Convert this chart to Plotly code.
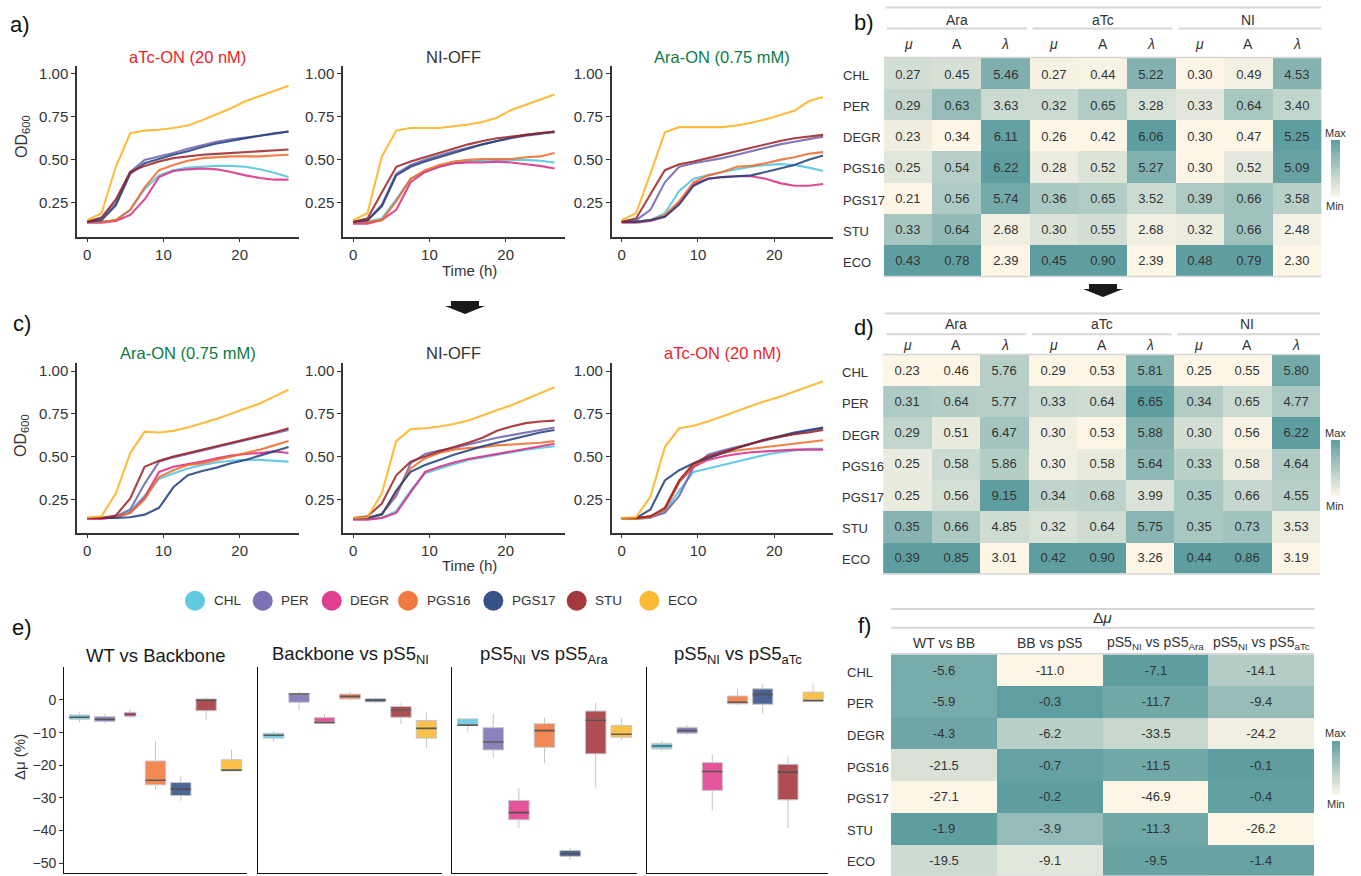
import plotly.graph_objects as go

W, H = 1361, 876
FONT = "Liberation Sans, Arial, Helvetica, sans-serif"
INK = "#333333"
RED = "#EB1E2B"
GREEN = "#0B7A47"
RULE = "#D6D6D6"

# ---------------------------------------------------------------- data
strains = ["CHL", "PER", "DEGR", "PGS16", "PGS17", "STU", "ECO"]
palette = ["#4FC4DE", "#6B63AA", "#DD2A83", "#EE6A2B", "#213F7B", "#9B2227", "#FBB21F"]

time_h = [0.0, 1.89, 3.77, 5.66, 7.54, 9.43, 11.31, 13.2, 15.09, 16.97, 18.86, 20.74, 22.63, 24.51, 26.4]

# OD600 growth curves, first round
od_a_atc = {
    "CHL":   [0.14, 0.14, 0.15, 0.21, 0.33, 0.41, 0.44, 0.455, 0.46, 0.465, 0.465, 0.46, 0.445, 0.425, 0.40],
    "PER":   [0.14, 0.16, 0.25, 0.43, 0.50, 0.52, 0.54, 0.565, 0.585, 0.605, 0.62, 0.63, 0.64, 0.65, 0.665],
    "DEGR":  [0.135, 0.135, 0.145, 0.18, 0.27, 0.40, 0.435, 0.445, 0.45, 0.445, 0.43, 0.41, 0.395, 0.385, 0.385],
    "PGS16": [0.14, 0.14, 0.15, 0.21, 0.34, 0.44, 0.47, 0.495, 0.51, 0.515, 0.52, 0.52, 0.52, 0.525, 0.53],
    "PGS17": [0.14, 0.15, 0.235, 0.42, 0.48, 0.505, 0.53, 0.55, 0.575, 0.595, 0.61, 0.625, 0.64, 0.655, 0.665],
    "STU":   [0.14, 0.165, 0.27, 0.43, 0.465, 0.49, 0.51, 0.52, 0.53, 0.535, 0.54, 0.545, 0.55, 0.555, 0.56],
    "ECO":   [0.15, 0.19, 0.46, 0.655, 0.67, 0.675, 0.685, 0.70, 0.73, 0.765, 0.80, 0.84, 0.872, 0.90, 0.93],
}
od_a_ni = {
    "CHL":   [0.14, 0.14, 0.16, 0.27, 0.39, 0.43, 0.46, 0.48, 0.49, 0.495, 0.50, 0.50, 0.50, 0.495, 0.485],
    "PER":   [0.14, 0.15, 0.24, 0.42, 0.47, 0.50, 0.525, 0.55, 0.57, 0.59, 0.61, 0.625, 0.64, 0.65, 0.665],
    "DEGR":  [0.13, 0.13, 0.15, 0.21, 0.37, 0.43, 0.46, 0.48, 0.485, 0.485, 0.49, 0.485, 0.475, 0.465, 0.45],
    "PGS16": [0.14, 0.14, 0.15, 0.26, 0.39, 0.44, 0.47, 0.49, 0.50, 0.505, 0.505, 0.505, 0.515, 0.52, 0.54],
    "PGS17": [0.14, 0.15, 0.23, 0.41, 0.46, 0.49, 0.515, 0.54, 0.565, 0.59, 0.61, 0.63, 0.645, 0.655, 0.66],
    "STU":   [0.14, 0.16, 0.31, 0.46, 0.49, 0.515, 0.54, 0.565, 0.59, 0.61, 0.625, 0.635, 0.645, 0.655, 0.665],
    "ECO":   [0.15, 0.19, 0.52, 0.67, 0.685, 0.685, 0.685, 0.695, 0.705, 0.72, 0.745, 0.79, 0.82, 0.85, 0.88],
}
od_a_ara = {
    "CHL":   [0.14, 0.14, 0.15, 0.19, 0.32, 0.39, 0.41, 0.43, 0.445, 0.46, 0.47, 0.475, 0.47, 0.455, 0.435],
    "PER":   [0.14, 0.15, 0.21, 0.37, 0.46, 0.48, 0.495, 0.51, 0.53, 0.55, 0.57, 0.59, 0.605, 0.62, 0.635],
    "DEGR":  [0.135, 0.135, 0.145, 0.17, 0.25, 0.36, 0.39, 0.40, 0.405, 0.405, 0.39, 0.365, 0.35, 0.35, 0.36],
    "PGS16": [0.14, 0.14, 0.15, 0.18, 0.26, 0.37, 0.41, 0.43, 0.46, 0.465, 0.48, 0.50, 0.515, 0.535, 0.545],
    "PGS17": [0.14, 0.14, 0.15, 0.17, 0.24, 0.35, 0.39, 0.40, 0.405, 0.41, 0.43, 0.45, 0.47, 0.50, 0.525],
    "STU":   [0.14, 0.16, 0.30, 0.44, 0.475, 0.49, 0.51, 0.53, 0.55, 0.57, 0.59, 0.61, 0.625, 0.635, 0.645],
    "ECO":   [0.15, 0.19, 0.42, 0.66, 0.69, 0.69, 0.69, 0.69, 0.70, 0.715, 0.735, 0.76, 0.785, 0.84, 0.865],
}

# OD600 growth curves, second round
od_c_ara = {
    "CHL":   [0.14, 0.14, 0.145, 0.18, 0.27, 0.37, 0.40, 0.43, 0.45, 0.465, 0.475, 0.48, 0.48, 0.475, 0.47],
    "PER":   [0.14, 0.14, 0.15, 0.19, 0.34, 0.47, 0.495, 0.515, 0.535, 0.555, 0.575, 0.595, 0.615, 0.635, 0.655],
    "DEGR":  [0.135, 0.135, 0.145, 0.17, 0.26, 0.41, 0.44, 0.455, 0.47, 0.49, 0.505, 0.515, 0.52, 0.53, 0.52],
    "PGS16": [0.14, 0.14, 0.145, 0.17, 0.25, 0.38, 0.42, 0.45, 0.46, 0.48, 0.50, 0.52, 0.54, 0.565, 0.59],
    "PGS17": [0.14, 0.14, 0.14, 0.145, 0.16, 0.20, 0.32, 0.39, 0.415, 0.435, 0.46, 0.48, 0.505, 0.53, 0.555],
    "STU":   [0.14, 0.14, 0.155, 0.255, 0.44, 0.475, 0.50, 0.52, 0.54, 0.56, 0.58, 0.60, 0.62, 0.64, 0.665],
    "ECO":   [0.143, 0.15, 0.285, 0.52, 0.645, 0.64, 0.65, 0.67, 0.695, 0.72, 0.75, 0.78, 0.81, 0.85, 0.89],
}
od_c_ni = {
    "CHL":   [0.135, 0.135, 0.14, 0.18, 0.30, 0.40, 0.43, 0.455, 0.48, 0.495, 0.51, 0.525, 0.54, 0.55, 0.56],
    "PER":   [0.14, 0.14, 0.165, 0.27, 0.46, 0.515, 0.535, 0.55, 0.57, 0.59, 0.61, 0.625, 0.64, 0.655, 0.67],
    "DEGR":  [0.13, 0.13, 0.14, 0.17, 0.29, 0.41, 0.44, 0.465, 0.485, 0.50, 0.515, 0.53, 0.545, 0.56, 0.575],
    "PGS16": [0.14, 0.14, 0.16, 0.29, 0.43, 0.49, 0.52, 0.54, 0.55, 0.555, 0.565, 0.57, 0.575, 0.58, 0.59],
    "PGS17": [0.14, 0.14, 0.16, 0.30, 0.41, 0.45, 0.48, 0.51, 0.535, 0.56, 0.58, 0.60, 0.62, 0.64, 0.655],
    "STU":   [0.14, 0.15, 0.225, 0.39, 0.47, 0.50, 0.53, 0.555, 0.58, 0.61, 0.65, 0.675, 0.695, 0.705, 0.71],
    "ECO":   [0.14, 0.145, 0.285, 0.59, 0.66, 0.665, 0.675, 0.69, 0.71, 0.74, 0.77, 0.80, 0.835, 0.87, 0.905],
}
od_c_atc = {
    "CHL":   [0.135, 0.135, 0.14, 0.18, 0.30, 0.41, 0.43, 0.45, 0.47, 0.49, 0.51, 0.525, 0.535, 0.545, 0.545],
    "PER":   [0.14, 0.14, 0.145, 0.17, 0.27, 0.44, 0.51, 0.535, 0.555, 0.575, 0.595, 0.615, 0.635, 0.65, 0.665],
    "DEGR":  [0.14, 0.14, 0.15, 0.19, 0.35, 0.44, 0.48, 0.50, 0.515, 0.525, 0.53, 0.535, 0.54, 0.54, 0.54],
    "PGS16": [0.135, 0.135, 0.145, 0.19, 0.35, 0.45, 0.49, 0.52, 0.535, 0.545, 0.555, 0.565, 0.575, 0.585, 0.595],
    "PGS17": [0.14, 0.14, 0.19, 0.36, 0.42, 0.46, 0.49, 0.52, 0.55, 0.575, 0.60, 0.62, 0.64, 0.655, 0.67],
    "STU":   [0.14, 0.14, 0.15, 0.20, 0.36, 0.46, 0.50, 0.525, 0.55, 0.575, 0.60, 0.615, 0.63, 0.64, 0.655],
    "ECO":   [0.14, 0.145, 0.265, 0.555, 0.665, 0.68, 0.705, 0.735, 0.765, 0.795, 0.825, 0.85, 0.88, 0.91, 0.94],
}

# growth parameters (mu, A, lambda) per inducer, first round
b_ara = {"mu": [0.27, 0.29, 0.23, 0.25, 0.21, 0.33, 0.43],
         "A": [0.45, 0.63, 0.34, 0.54, 0.56, 0.64, 0.78],
         "lam": [5.46, 3.63, 6.11, 6.22, 5.74, 2.68, 2.39]}
b_atc = {"mu": [0.27, 0.32, 0.26, 0.28, 0.36, 0.30, 0.45],
         "A": [0.44, 0.65, 0.42, 0.52, 0.65, 0.55, 0.90],
         "lam": [5.22, 3.28, 6.06, 5.27, 3.52, 2.68, 2.39]}
b_ni = {"mu": [0.30, 0.33, 0.30, 0.30, 0.39, 0.32, 0.48],
        "A": [0.49, 0.64, 0.47, 0.52, 0.66, 0.66, 0.79],
        "lam": [4.53, 3.40, 5.25, 5.09, 3.58, 2.48, 2.30]}

# growth parameters, second round
d_ara = {"mu": [0.23, 0.31, 0.29, 0.25, 0.25, 0.35, 0.39],
         "A": [0.46, 0.64, 0.51, 0.58, 0.56, 0.66, 0.85],
         "lam": [5.76, 5.77, 6.47, 5.86, 9.15, 4.85, 3.01]}
d_atc = {"mu": [0.29, 0.33, 0.30, 0.30, 0.34, 0.32, 0.42],
         "A": [0.53, 0.64, 0.53, 0.58, 0.68, 0.64, 0.90],
         "lam": [5.81, 6.65, 5.88, 5.64, 3.99, 5.75, 3.26]}
d_ni = {"mu": [0.25, 0.34, 0.30, 0.33, 0.35, 0.35, 0.44],
        "A": [0.55, 0.65, 0.56, 0.58, 0.66, 0.73, 0.86],
        "lam": [5.80, 4.77, 6.22, 4.64, 4.55, 3.53, 3.19]}

# mean growth-rate change (%)
f_wt_bb = [-5.6, -5.9, -4.3, -21.5, -27.1, -1.9, -19.5]
f_bb_ps5 = [-11.0, -0.3, -6.2, -0.7, -0.2, -3.9, -9.1]
f_ni_ara = [-7.1, -11.7, -33.5, -11.5, -46.9, -11.3, -9.5]
f_ni_atc = [-14.1, -9.4, -24.2, -0.1, -0.4, -26.2, -1.4]

# growth-rate change distributions (%): whisker ends, quartiles, median
e_wt_bb = {"lo":  [-6.8, -7.2, -5.3, -27.5, -30.9, -6.1, -21.9],
           "q1":  [-5.9, -6.6, -5.1, -26.0, -29.3, -3.3, -21.7],
           "med": [-5.3, -5.9, -4.4, -24.6, -27.3, -0.1, -21.5],
           "q3":  [-4.6, -5.1, -3.8, -18.7, -25.3, 0.3, -18.3],
           "hi":  [-3.9, -4.2, -2.9, -12.7, -23.2, 0.8, -15.3]}
e_bb_ps5 = {"lo":  [-12.7, -3.1, -7.4, -0.2, -1.0, -7.4, -14.8],
            "q1":  [-11.7, -0.7, -7.1, 0.3, -0.6, -5.3, -11.7],
            "med": [-10.8, 1.8, -6.9, 1.1, -0.1, -3.1, -8.7],
            "q3":  [-10.2, 2.0, -5.4, 1.8, 0.4, -2.0, -6.3],
            "hi":  [-9.5, 2.5, -4.3, 2.5, 0.7, -1.0, -3.9]}
e_ni_ara = {"lo":  [-9.7, -17.6, -39.2, -19.4, -48.9, -26.8, -12.4],
            "q1":  [-7.8, -15.3, -36.7, -14.5, -47.9, -16.5, -11.4],
            "med": [-7.7, -12.9, -34.5, -9.4, -47.1, -6.2, -10.5],
            "q3":  [-5.8, -8.5, -30.8, -7.3, -46.1, -3.4, -7.8],
            "hi":  [-5.8, -4.3, -27.0, -5.4, -45.2, -0.8, -5.4]}
e_ni_atc = {"lo":  [-15.6, -10.8, -33.9, -1.7, -4.4, -39.2, -0.3],
            "q1":  [-15.0, -10.2, -27.7, -1.2, -1.3, -30.6, -0.3],
            "med": [-14.1, -9.4, -21.9, -0.7, 1.7, -22.1, -0.2],
            "q3":  [-13.3, -8.4, -19.2, 1.2, 3.4, -19.7, 2.4],
            "hi":  [-12.6, -7.7, -16.8, 3.3, 4.8, -17.3, 5.1]}

# ---------------------------------------------------------------- helpers
def px_x(v):
    return v / W


def px_y(v):
    return 1 - v / H


def ax(k):
    return "" if k == 1 else str(k)


def rgba(hex_color, a):
    h = hex_color.lstrip("#")
    r, g, b = int(h[0:2], 16), int(h[2:4], 16), int(h[4:6], 16)
    return f"rgba({r},{g},{b},{a})"


fig = go.Figure()
lay = {}
annotations = []
shapes = []


def label(x, y, s, size, color=INK, xref="paper", yref="paper", xanchor="center",
          yanchor="middle", angle=0, yshift=0):
    annotations.append(dict(x=x, y=y, xref=xref, yref=yref, text=s, showarrow=False,
                            font=dict(family=FONT, size=size, color=color),
                            xanchor=xanchor, yanchor=yanchor, textangle=angle,
                            yshift=yshift))


def rule(x0, x1, y, color=RULE, width=2):
    shapes.append(dict(type="line", xref="paper", yref="paper",
                       x0=px_x(x0), x1=px_x(x1), y0=px_y(y), y1=px_y(y),
                       line=dict(color=color, width=width)))


def arrow(cx, top):
    pts = [(cx - 14, top), (cx + 14, top), (cx + 14, top + 5), (cx + 20, top + 5),
           (cx, top + 13), (cx - 20, top + 5), (cx - 14, top + 5)]
    path = "M " + " L ".join(f"{px_x(x):.5f},{px_y(y):.5f}" for x, y in pts) + " Z"
    shapes.append(dict(type="path", xref="paper", yref="paper", path=path,
                       fillcolor="#1a1a1a", line=dict(width=0)))


tick_font = dict(family=FONT, size=15, color=INK)

# ---------------------------------------------------------------- growth curves (a, c)
line_panels = [
    (od_a_atc, "aTc-ON (20 nM)", RED, 0, 0),
    (od_a_ni, "NI-OFF", INK, 1, 0),
    (od_a_ara, "Ara-ON (0.75 mM)", GREEN, 2, 0),
    (od_c_ara, "Ara-ON (0.75 mM)", GREEN, 0, 1),
    (od_c_ni, "NI-OFF", INK, 1, 1),
    (od_c_atc, "aTc-ON (20 nM)", RED, 2, 1),
]
col_x = [(77.0, 298.6), (343.0, 564.6), (611.6, 833.2)]
row_y = [(66.0, 236.5), (363.3, 532.6)]
title_y = [57, 353]

k = 0
for curves, title, tcol, c, r in line_panels:
    k += 1
    xa, ya = "x" + ax(k), "y" + ax(k)
    for name, col in zip(strains, palette):
        fig.add_trace(go.Scatter(x=time_h, y=curves[name], mode="lines",
                                 line=dict(color=col, width=2.1), opacity=0.85,
                                 xaxis=xa, yaxis=ya, showlegend=False, hoverinfo="skip"))
    x0, x1 = col_x[c]
    y0, y1 = row_y[r]
    lay["xaxis" + ax(k)] = dict(domain=[px_x(x0), px_x(x1)], anchor=ya, range=[-1.32, 27.72],
                                tickvals=[0, 10, 20], ticks="outside", ticklen=4, tickwidth=1.2,
                                tickcolor=INK, showline=True, linecolor=INK, linewidth=1.5,
                                showgrid=False, zeroline=False, tickfont=tick_font)
    lay["yaxis" + ax(k)] = dict(domain=[px_y(y1), px_y(y0)], anchor=xa, range=[0.055, 1.045],
                                tickvals=[0.25, 0.5, 0.75, 1.0], tickformat=".2f",
                                ticks="outside", ticklen=4, tickwidth=1.2, tickcolor=INK,
                                showline=True, linecolor=INK, linewidth=1.5,
                                showgrid=False, zeroline=False, tickfont=tick_font)
    label(px_x((x0 + x1) / 2), px_y(title_y[r]), title, 16.5, tcol)

label(px_x(22), px_y(137), "OD<sub>600</sub>", 16, INK, angle=-90)
label(px_x(22), px_y(436), "OD<sub>600</sub>", 16, INK, angle=-90)
label(px_x(469), px_y(270), "Time (h)", 15, INK)
label(px_x(469), px_y(565), "Time (h)", 15, INK)

# ---------------------------------------------------------------- Δμ boxplots (e)
facets = [
    ("WT vs Backbone", e_wt_bb),
    ("Backbone vs pS5<sub>NI</sub>", e_bb_ps5),
    ("pS5<sub>NI</sub> vs pS5<sub>Ara</sub>", e_ni_ara),
    ("pS5<sub>NI</sub> vs pS5<sub>aTc</sub>", e_ni_atc),
]
facet_x = [(64.3, 246.7), (258.3, 441.7), (452.3, 636.7), (646.7, 828.3)]
e_top, e_bot = 667.3, 873.0
box_w = 0.8
narrow_boxes = {(0, "DEGR"): 0.45}

for i, (ftitle, st) in enumerate(facets):
    k += 1
    xa, ya = "x" + ax(k), "y" + ax(k)
    med_x, med_y = [], []
    for j, (name, col) in enumerate(zip(strains, palette)):
        pos = j + 1
        w = narrow_boxes.get((i, name), box_w)
        fig.add_trace(go.Box(x=[pos], q1=[st["q1"][j]], median=[st["med"][j]], q3=[st["q3"][j]],
                             lowerfence=[st["lo"][j]], upperfence=[st["hi"][j]],
                             orientation="v", width=w, whiskerwidth=0, boxpoints=False,
                             fillcolor=rgba(col, 0.8), line=dict(color="#C6C6C6", width=1),
                             xaxis=xa, yaxis=ya, showlegend=False, hoverinfo="skip"))
        med_x += [pos - w / 2, pos + w / 2, None]
        med_y += [st["med"][j], st["med"][j], None]
    fig.add_trace(go.Scatter(x=med_x, y=med_y, mode="lines",
                             line=dict(color="rgba(45,45,45,0.7)", width=1.6),
                             xaxis=xa, yaxis=ya, showlegend=False, hoverinfo="skip"))
    x0, x1 = facet_x[i]
    lay["xaxis" + ax(k)] = dict(domain=[px_x(x0), px_x(x1)], anchor=ya, range=[0.4, 7.6],
                                showticklabels=False, ticks="", showline=True, linecolor="#111",
                                linewidth=1.4, showgrid=False, zeroline=False)
    ydict = dict(domain=[px_y(e_bot), px_y(e_top)], anchor=xa, range=[-53, 10],
                 showline=True, linecolor="#111", linewidth=1.4, showgrid=False, zeroline=False)
    if i == 0:
        ydict.update(tickvals=[0, -10, -20, -30, -40, -50], ticks="outside", ticklen=4,
                     tickwidth=1.2, tickcolor=INK, tickfont=dict(family=FONT, size=14, color=INK))
    else:
        ydict.update(showticklabels=False, ticks="")
    lay["yaxis" + ax(k)] = ydict
    label(px_x((x0 + x1) / 2), px_y(655), ftitle, 18.5, "#1a1a1a")

label(px_x(19), px_y(757), "Δμ (%)", 15, INK, angle=-90)

# legend row
legend_cx = [195.0, 262.7, 331.7, 408.0, 493.3, 576.7, 649.3]
legend_cy = 600.7
for cx, name, col in zip(legend_cx, strains, palette):
    shapes.append(dict(type="circle", xref="paper", yref="paper",
                       x0=px_x(cx - 10), x1=px_x(cx + 10),
                       y0=px_y(legend_cy + 10), y1=px_y(legend_cy - 10),
                       fillcolor=col, opacity=0.9, line=dict(width=0)))
    label(px_x(cx + 16.5), px_y(legend_cy), name, 13.5, INK, xanchor="left")

# ---------------------------------------------------------------- heatmap tables (b, d, f)
CSCALE = [[0.0, "#FDF6E7"], [1.0, "#5F9EA0"]]


def normalise(col):
    lo, hi = min(col), max(col)
    return [(v - lo) / (hi - lo) for v in col]


def table(k, columns, fmt, x_px, y_px, cb_x, cb_y, max_y, min_y, label_x):
    xa, ya = "x" + ax(k), "y" + ax(k)
    ncol = len(columns)
    zcols = [normalise(c) for c in columns]
    z = [[zcols[c][r] for c in range(ncol)] for r in range(len(strains))]
    txt = [[fmt.format(columns[c][r]) for c in range(ncol)] for r in range(len(strains))]
    fig.add_trace(go.Heatmap(
        z=z, x=list(range(ncol)), y=list(range(len(strains))), text=txt,
        texttemplate="%{text}", textfont=dict(family=FONT, size=13, color=INK),
        colorscale=CSCALE, zmin=0, zmax=1, xaxis=xa, yaxis=ya, hoverinfo="skip",
        showscale=True,
        colorbar=dict(x=px_x(cb_x[0]), xanchor="left", y=px_y((cb_y[0] + cb_y[1]) / 2),
                      yanchor="middle", len=cb_y[1] - cb_y[0], lenmode="pixels",
                      thickness=cb_x[1] - cb_x[0], thicknessmode="pixels", outlinewidth=0,
                      ticks="", showticklabels=False, xpad=0, ypad=0,
                      bgcolor="rgba(0,0,0,0)")))
    lay["xaxis" + ax(k)] = dict(domain=[px_x(x_px[0]), px_x(x_px[1])], anchor=ya,
                                range=[-0.5, ncol - 0.5], visible=False)
    lay["yaxis" + ax(k)] = dict(domain=[px_y(y_px[1]), px_y(y_px[0])], anchor=xa,
                                range=[len(strains) - 0.5, -0.5], visible=False)
    for r, name in enumerate(strains):
        label(px_x(label_x), r, name, 13, INK, yref=ya, xanchor="left", yshift=-2)
    cmid = (cb_x[0] + cb_x[1]) / 2
    label(px_x(cmid), px_y(max_y), "Max", 11, INK)
    label(px_x(cmid), px_y(min_y), "Min", 11, INK)
    rule(x_px[0], x_px[1], y_px[0] - 0.5, width=1.5)
    rule(x_px[0], x_px[1], y_px[1] + 0.5, width=1.5)
    return xa


heads = ["<i>μ</i>", "A", "<i>λ</i>"]
inducers = ["Ara", "aTc", "NI"]


def param_table(k, groups, x_px, y_px, top_y, group_y, group_rule_y, head_y, cb_y, max_y, min_y, label_x):
    cols = []
    for g in groups:
        cols += [g["mu"], g["A"], g["lam"]]
    xa = table(k, cols, "{:.2f}", x_px, y_px, (1330.7, 1340.0), cb_y, max_y, min_y, label_x)
    cw = (x_px[1] - x_px[0]) / 9
    rule(x_px[0] + 2, x_px[1], top_y)
    for gi, name in enumerate(inducers):
        label(gi * 3 + 1, px_y(group_y), name, 14, INK, xref=xa)
        rule(x_px[0] + gi * 3 * cw + 3, x_px[0] + (gi * 3 + 3) * cw - (3 if gi < 2 else 0), group_rule_y)
    for ci in range(9):
        label(ci, px_y(head_y), heads[ci % 3], 14, INK, xref=xa)


k += 1
param_table(k, [b_ara, b_atc, b_ni], (883.8, 1321.4), (58.0, 276.0), 7.6, 19.5, 28.6, 44.2,
            (139.8, 196.7), 132.8, 206.0, 840.7)
k += 1
param_table(k, [d_ara, d_atc, d_ni], (883.1, 1320.3), (354.9, 573.6), 313.5, 324.0, 334.2, 345.2,
            (440.0, 496.0), 432.5, 505.7, 839.6)

k += 1
f_cols = [f_wt_bb, f_bb_ps5, f_ni_ara, f_ni_atc]
f_heads = ["WT vs BB", "BB vs pS5", "pS5<sub>NI</sub> vs pS5<sub>Ara</sub>",
           "pS5<sub>NI</sub> vs pS5<sub>aTc</sub>"]
f_x, f_y = (891.0, 1314.3), (654.3, 875.8)
xa = table(k, f_cols, "{:.1f}", f_x, f_y, (1331.7, 1340.0), (741.0, 795.0), 733.3, 804.0, 845.0)
rule(f_x[0], f_x[1], 609.0)
rule(f_x[0], f_x[1], 627.7)
label(px_x((f_x[0] + f_x[1]) / 2), px_y(617.5), "Δ<i>μ</i>", 15.5, INK)
for ci, h in enumerate(f_heads):
    label(ci, px_y(642.7), h, 14, INK, xref=xa)

# ---------------------------------------------------------------- panel tags and arrows
for tag, x, y in [("a)", 20, 24), ("b)", 864, 22), ("c)", 22, 324), ("d)", 864, 327),
                  ("e)", 22, 627), ("f)", 864, 625)]:
    label(px_x(x), px_y(y), tag, 22, "#111111")

arrow(465, 301)
arrow(1103, 284)

fig.update_layout(
    width=W, height=H, autosize=False, margin=dict(l=0, r=0, t=0, b=0, pad=0),
    paper_bgcolor="white", plot_bgcolor="white", showlegend=False, boxmode="overlay",
    font=dict(family=FONT, color=INK), annotations=annotations, shapes=shapes, **lay,
)

fig.write_html("out.html")
